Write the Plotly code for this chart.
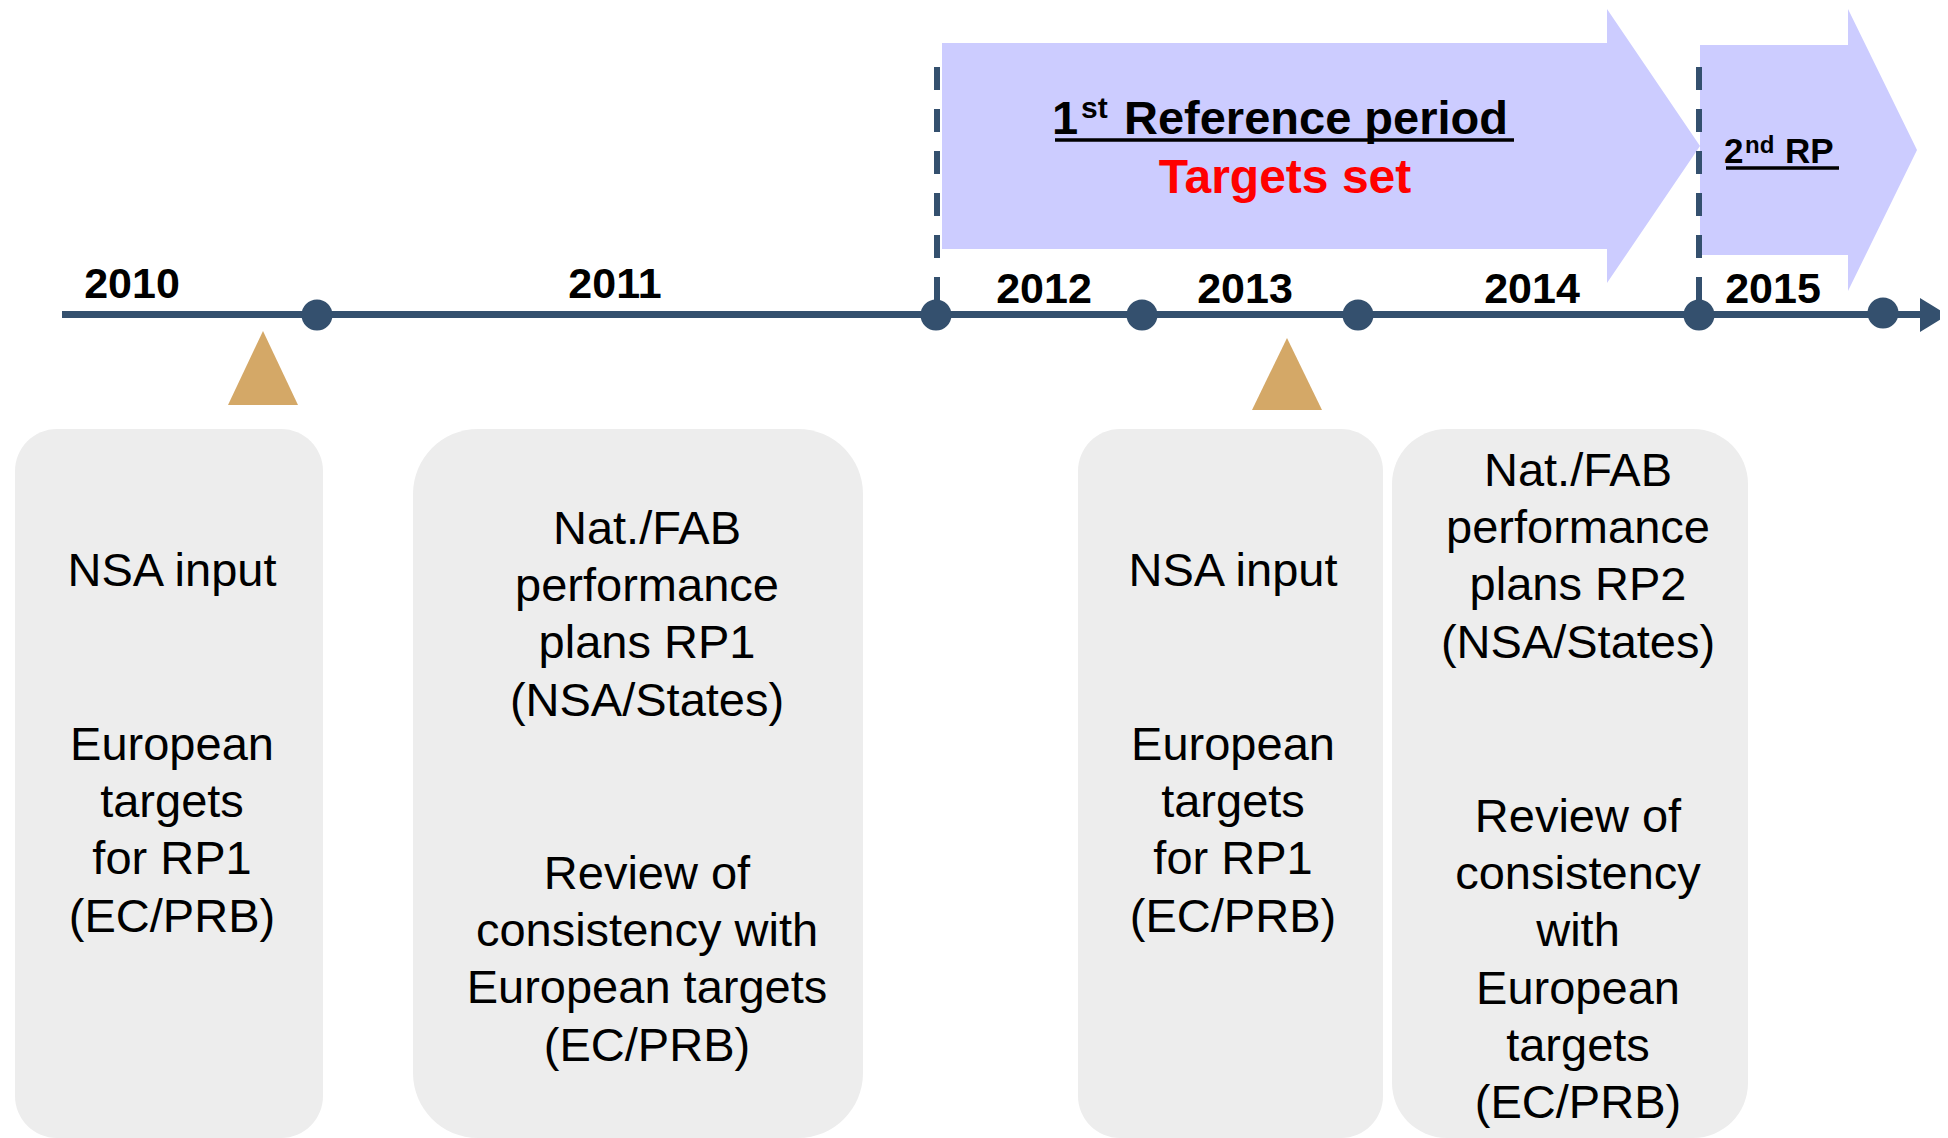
import plotly.graph_objects as go

W, H = 1948, 1138
PAGE_OFFSET = 8  # browser body margin
DARK = "#34506E"
LAVENDER = "#CCCCFF"
TAN = "#D4A867"
BOX_FILL = "#EDEDED"
FONT = "Liberation Sans, Arial, sans-serif"
LINE = 57.3
TXT_DY = 4

# timeline
years = ["2010", "2011", "2012", "2013", "2014", "2015"]
year_x = [132, 615, 1044, 1245, 1532, 1773]
year_y = [283, 283, 288, 288, 288, 288]
milestone_x = [317, 936, 1142, 1358, 1699, 1883]
milestone_y = [315, 315, 315, 315, 315, 313]
period_start_x = [937, 1699]

# reference period titles, split in pieces (number, ordinal suffix, rest)
rp_pieces = ["1", "st", "Reference period", "2", "nd", "RP"]
rp_piece_x = [1052, 1081, 1124, 1724, 1745, 1785]
rp_piece_y = [122, 110.5, 122, 154, 147, 154]
rp_piece_size = [47, 30, 47, 35, 24, 35]
rp_sub = "Targets set"

# NSA input markers
input_x = [263, 1287]

# boxes: (x0, x1, corner radius) and text blocks (first line y, lines)
boxes = [(15, 323, 42), (413, 863, 65), (1078, 1383, 42), (1392, 1748, 55)]
box_text_x = [172, 647, 1233, 1578]
box_blocks = [
    [(570, ["NSA input"]),
     (744, ["European", "targets", "for RP1", "(EC/PRB)"])],
    [(528, ["Nat./FAB", "performance", "plans RP1", "(NSA/States)"]),
     (873, ["Review of", "consistency with", "European targets", "(EC/PRB)"])],
    [(570, ["NSA input"]),
     (744, ["European", "targets", "for RP1", "(EC/PRB)"])],
    [(470, ["Nat./FAB", "performance", "plans RP2", "(NSA/States)"]),
     (816, ["Review of", "consistency", "with", "European", "targets", "(EC/PRB)"])],
]


def rounded_box(x0, y0, x1, y1, r):
    k = 0.5523 * r
    return (f"M{x0 + r},{y0} H{x1 - r} C{x1 - r + k},{y0} {x1},{y0 + r - k} {x1},{y0 + r} "
            f"V{y1 - r} C{x1},{y1 - r + k} {x1 - r + k},{y1} {x1 - r},{y1} "
            f"H{x0 + r} C{x0 + r - k},{y1} {x0},{y1 - r + k} {x0},{y1 - r} "
            f"V{y0 + r} C{x0},{y0 + r - k} {x0 + r - k},{y0} {x0 + r},{y0} Z")


shapes = []
for x0, x1, r in boxes:
    shapes.append(dict(type="path", path=rounded_box(x0, 429, x1, 1138, r),
                       fillcolor=BOX_FILL, line=dict(width=0), layer="below"))

# arrows for the reference periods
shapes.append(dict(type="path", layer="below", fillcolor=LAVENDER, line=dict(width=0),
                   path="M942,43 L1607,43 L1607,9 L1700,146 L1607,283 L1607,249 L942,249 Z"))
shapes.append(dict(type="path", layer="below", fillcolor=LAVENDER, line=dict(width=0),
                   path="M1700,45 L1848,45 L1848,9 L1917,150 L1848,291 L1848,255 L1700,255 Z"))

# period start markers
for px in period_start_x:
    shapes.append(dict(type="line", x0=px, x1=px, y0=67, y1=315, layer="below",
                       line=dict(color=DARK, width=6, dash="23px,19px")))

# main time axis
shapes.append(dict(type="line", x0=62, x1=1925, y0=314.5, y1=314.5, layer="below",
                   line=dict(color=DARK, width=7)))
shapes.append(dict(type="path", path="M1920,298 L1948,315 L1920,332 Z", layer="below",
                   fillcolor=DARK, line=dict(width=0)))

# NSA input triangles
for tx in input_x:
    base = 405 if tx < 1000 else 410
    apex = 331 if tx < 1000 else 338
    shapes.append(dict(type="path", layer="below", fillcolor=TAN, line=dict(width=0),
                       path=f"M{tx},{apex} L{tx + 35},{base} L{tx - 35},{base} Z"))

# underlines of the period titles
shapes.append(dict(type="line", x0=1055, x1=1514, y0=140, y1=140,
                   line=dict(color="black", width=3.5)))
shapes.append(dict(type="line", x0=1726, x1=1839, y0=168, y1=168,
                   line=dict(color="black", width=3.5)))

fig = go.Figure()

fig.add_trace(go.Scatter(x=milestone_x, y=milestone_y, mode="markers",
                         marker=dict(size=31, color=DARK, line=dict(width=0)),
                         hoverinfo="skip"))

fig.add_trace(go.Scatter(x=year_x, y=[y + TXT_DY for y in year_y], mode="text",
                         text=[f"<b>{y}</b>" for y in years],
                         textposition="middle center",
                         textfont=dict(family=FONT, size=43, color="black"),
                         hoverinfo="skip"))

fig.add_trace(go.Scatter(x=rp_piece_x, y=rp_piece_y, mode="text",
                         text=[f"<b>{t}</b>" for t in rp_pieces],
                         textposition="middle right",
                         textfont=dict(family=FONT, size=rp_piece_size, color="black"),
                         hoverinfo="skip"))
fig.add_trace(go.Scatter(x=[1285], y=[177 + TXT_DY], mode="text", text=[f"<b>{rp_sub}</b>"],
                         textposition="middle center",
                         textfont=dict(family=FONT, size=48, color="#FF0000"),
                         hoverinfo="skip"))

for bx, blocks in zip(box_text_x, box_blocks):
    xs, ys, ts = [], [], []
    for y0, lines in blocks:
        for i, line in enumerate(lines):
            xs.append(bx)
            ys.append(y0 + i * LINE + TXT_DY)
            ts.append(line)
    fig.add_trace(go.Scatter(x=xs, y=ys, mode="text", text=ts, textposition="middle center",
                             textfont=dict(family=FONT, size=47, color="black"),
                             hoverinfo="skip"))

fig.update_layout(
    width=W - PAGE_OFFSET, height=H - PAGE_OFFSET,
    margin=dict(l=0, r=0, t=0, b=0),
    paper_bgcolor="white", plot_bgcolor="white",
    showlegend=False,
    shapes=shapes,
    xaxis=dict(range=[PAGE_OFFSET, W], visible=False, fixedrange=True),
    yaxis=dict(range=[H, PAGE_OFFSET], visible=False, fixedrange=True),
)

fig.write_html("out.html")
